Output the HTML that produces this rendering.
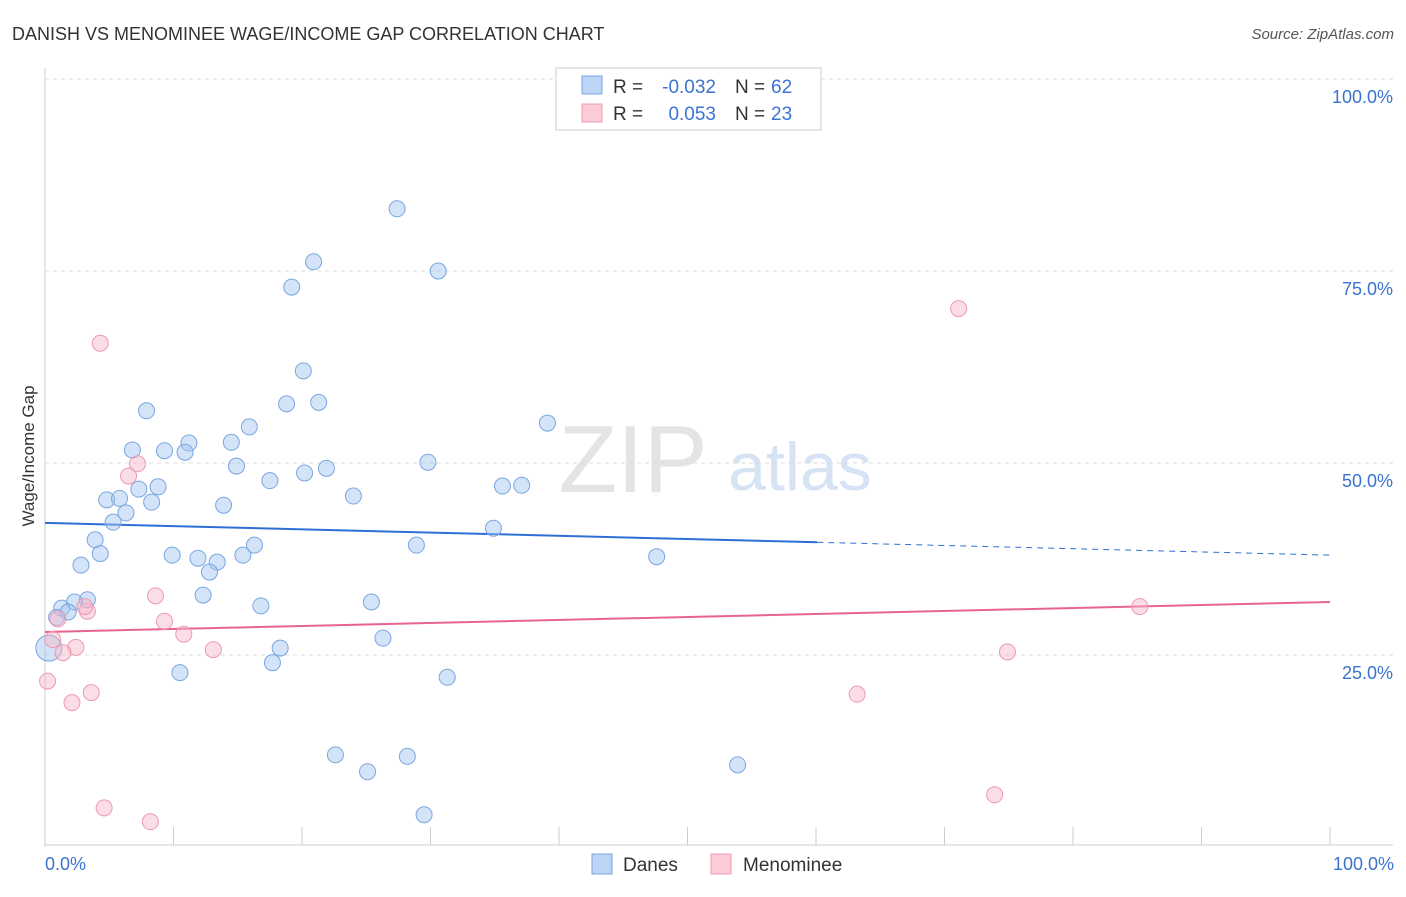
<!DOCTYPE html>
<html><head><meta charset="utf-8"><style>
body{margin:0;background:#fff;font-family:"Liberation Sans",sans-serif}
svg text{font-family:"Liberation Sans",sans-serif}
</style></head><body>
<svg id="chart" width="1406" height="892" xmlns="http://www.w3.org/2000/svg">
<text x="12" y="40" font-size="18" fill="#333">DANISH VS MENOMINEE WAGE/INCOME GAP CORRELATION CHART</text>
<text x="1394" y="39" font-size="15" fill="#555" font-style="italic" text-anchor="end">Source: ZipAtlas.com</text>
<text x="633" y="492" font-size="96" fill="#e4e4e4" font-family="Liberation Serif" text-anchor="middle">ZIP</text>
<text x="800" y="490" font-size="68" fill="#d6e3f5" text-anchor="middle">atlas</text>
<text transform="translate(34,456) rotate(-90)" font-size="17" fill="#333" text-anchor="middle">Wage/Income Gap</text>
<g id="grid"></g><g id="ticks"></g><g id="lines"></g><g id="pts"></g>
<g>
<rect x="556" y="68" width="265" height="62" fill="#fff" stroke="#ccc"/>
<rect x="582" y="76" width="20" height="18" fill="#bcd4f5" stroke="#7aa6e0"/>
<rect x="582" y="104" width="20" height="18" fill="#fbcbd8" stroke="#ec9ab2"/>
<text x="613" y="93" font-size="19" fill="#333">R =</text>
<text x="716" y="93" font-size="19" fill="#3a73d0" text-anchor="end">-0.032</text>
<text x="735" y="93" font-size="19" fill="#333">N =</text>
<text x="771" y="93" font-size="19" fill="#3a73d0">62</text>
<text x="613" y="120" font-size="19" fill="#333">R =</text>
<text x="716" y="120" font-size="19" fill="#3a73d0" text-anchor="end">0.053</text>
<text x="735" y="120" font-size="19" fill="#333">N =</text>
<text x="771" y="120" font-size="19" fill="#3a73d0">23</text>
</g>
<g>
<rect x="592" y="854" width="20" height="20" fill="#bcd4f5" stroke="#7aa6e0"/>
<text x="623" y="871" font-size="19" fill="#333">Danes</text>
<rect x="711" y="854" width="20" height="20" fill="#fbcbd8" stroke="#ec9ab2"/>
<text x="743" y="871" font-size="19" fill="#333">Menominee</text>
</g>
<text x="45" y="870" font-size="18" fill="#3a73d0">0.0%</text>
<text x="1394" y="870" font-size="18" fill="#3a73d0" text-anchor="end">100.0%</text>
</svg>
<script>
const danesX=[27.4,20.9,30.6,19.2,20.1,7.9,18.8,21.3,39.1,15.9,14.5,11.2,6.8,9.3,10.9,14.9,29.8,21.9,20.2,17.5,8.8,7.3,4.8,5.8,8.3,24.0,35.6,37.1,13.9,6.3,5.3,34.9,3.9,4.3,9.9,11.9,15.4,16.3,28.9,47.6,13.4,12.8,2.8,12.3,3.3,2.3,1.3,1.8,0.9,16.8,25.4,26.3,18.3,17.7,10.5,31.3,0.3,22.6,25.1,28.2,53.9,29.5];
const danesY=[83.1,76.2,75.0,72.9,62.0,56.8,57.7,57.9,55.2,54.7,52.7,52.6,51.7,51.6,51.4,49.6,50.1,49.3,48.7,47.7,46.9,46.6,45.2,45.4,44.9,45.7,47.0,47.1,44.5,43.5,42.3,41.5,40.0,38.2,38.0,37.6,38.0,39.3,39.3,37.8,37.1,35.8,36.7,32.8,32.2,31.9,31.1,30.6,29.9,31.4,31.9,27.2,25.9,24.0,22.7,22.1,25.9,12.0,9.8,11.8,10.7,4.2];
const menX=[4.3,71.1,7.2,6.5,8.6,9.3,3.3,3.1,1.0,10.8,0.6,2.4,1.4,13.1,85.2,74.9,0.2,3.6,2.1,63.2,4.6,8.2,73.9];
const menY=[65.6,70.1,49.9,48.3,32.7,29.4,30.7,31.3,29.7,27.7,27.0,26.0,25.3,25.7,31.3,25.4,21.6,20.1,18.8,19.9,5.1,3.3,6.8];
const yTicks=[25,50,75,100];
const yTickLabels=["25.0%","50.0%","75.0%","100.0%"];
const xTicks=[0,10,20,30,40,50,60,70,80,90,100];
const danesTrend=[42.2,38.0];
const menTrend=[28.0,31.9];
const danesSolidEnd=60.1;
const NS="http://www.w3.org/2000/svg";
const X=v=>45+v*12.85, Y=v=>847-v*7.68;
function mk(t,a,p){const e=document.createElementNS(NS,t);for(const k in a)e.setAttribute(k,a[k]);document.getElementById(p).appendChild(e);return e;}
let ax=mk('line',{x1:45,y1:68,x2:45,y2:847,stroke:'#ccc'},'grid');


let bx=mk('line',{x1:45,y1:845,x2:1393,y2:845,stroke:'#ccc'},'grid');


yTicks.forEach((t,i)=>{
 const g=mk('line',{x1:45,y1:Y(t),x2:1393,y2:Y(t),stroke:'#ddd','stroke-dasharray':'4,4'},'grid');
 
 
 const l=mk('text',{x:1393,y:Y(t)+24,'font-size':18,fill:'#3a73d0','text-anchor':'end'},'ticks');
 l.textContent=yTickLabels[i];
 
 
});
xTicks.forEach(t=>{
 const e=mk('line',{x1:X(t),y1:827,x2:X(t),y2:845,stroke:'#ccc'},'ticks');
 
 
});
const slope=(danesTrend[1]-danesTrend[0])/100;
const ymid=danesTrend[0]+slope*danesSolidEnd;
let l1=mk('line',{x1:X(0),y1:Y(danesTrend[0]),x2:X(danesSolidEnd),y2:Y(ymid),stroke:'#2e6fd6','stroke-width':2},'lines');


let l2=mk('line',{x1:X(danesSolidEnd),y1:Y(ymid),x2:X(100),y2:Y(danesTrend[1]),stroke:'#2e6fd6','stroke-width':1,'stroke-dasharray':'6,5'},'lines');


let l3=mk('line',{x1:X(0),y1:Y(menTrend[0]),x2:X(100),y2:Y(menTrend[1]),stroke:'#e8648e','stroke-width':2},'lines');


danesX.forEach((x,i)=>{
 const r=(x<0.5)?13:8;
 const c=mk('circle',{cx:X(x),cy:Y(danesY[i]),r:r,fill:'rgba(160,195,240,0.45)',stroke:'#7aa6e0','stroke-width':1},'pts');
 
 
});
menX.forEach((x,i)=>{
 const c=mk('circle',{cx:X(x),cy:Y(menY[i]),r:8,fill:'rgba(246,180,200,0.45)',stroke:'#ec9ab2','stroke-width':1},'pts');
 
 
});
</script>
</body></html>
